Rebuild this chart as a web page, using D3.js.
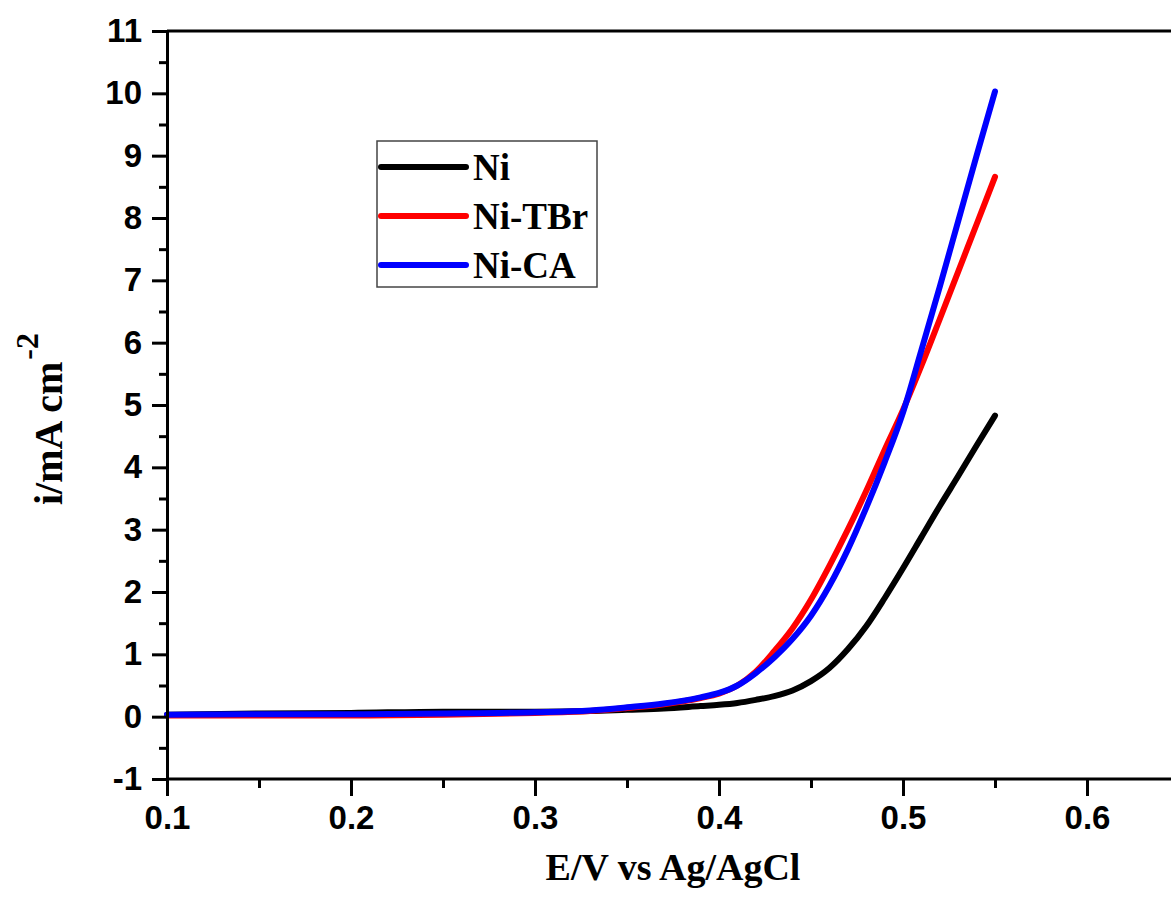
<!DOCTYPE html>
<html>
<head>
<meta charset="utf-8">
<script src="https://cdn.jsdelivr.net/npm/d3@7"></script>
<style>
  html, body { margin: 0; padding: 0; background: #fff; overflow: hidden; }
  svg { display: block; }
</style>
</head>
<body>
<script>
// ---- data ----
const potentials = [0.10, 0.15, 0.20, 0.25, 0.30, 0.33, 0.35, 0.37, 0.39, 0.40, 0.41, 0.42, 0.43, 0.44, 0.45, 0.46, 0.47, 0.48, 0.49, 0.50, 0.51, 0.52, 0.53, 0.54, 0.55];
const niValues    = [0.03, 0.05, 0.06, 0.08, 0.08, 0.09, 0.11, 0.13, 0.17, 0.19, 0.22, 0.27, 0.33, 0.42, 0.57, 0.78, 1.08, 1.45, 1.90, 2.38, 2.88, 3.38, 3.86, 4.35, 4.83];
const niTBrValues = [0.02, 0.02, 0.02, 0.03, 0.06, 0.09, 0.14, 0.20, 0.30, 0.37, 0.50, 0.72, 1.05, 1.42, 1.88, 2.42, 3.00, 3.62, 4.28, 4.92, 5.63, 6.38, 7.14, 7.90, 8.66];
const niCAValues  = [0.03, 0.04, 0.04, 0.05, 0.07, 0.10, 0.15, 0.21, 0.31, 0.38, 0.50, 0.70, 0.95, 1.25, 1.62, 2.10, 2.68, 3.35, 4.08, 4.88, 5.88, 6.90, 7.95, 9.00, 10.03];
const seriesNames = ["Ni", "Ni-TBr", "Ni-CA"];
const seriesColors = ["#000000", "#ff0000", "#0000ff"];
const xTicks = [0.1, 0.2, 0.3, 0.4, 0.5, 0.6];
const xMinorTicks = [0.15, 0.25, 0.35, 0.45, 0.55];
const yTicks = [-1, 0, 1, 2, 3, 4, 5, 6, 7, 8, 9, 10, 11];
const yMinorTicks = [-0.5, 0.5, 1.5, 2.5, 3.5, 4.5, 5.5, 6.5, 7.5, 8.5, 9.5, 10.5];
const xTitle = "E/V vs Ag/AgCl";
const yTitleMain = "i/mA cm";
const yTitleSup = "-2";

const W = 1171, H = 907;
const svg = d3.select("body").append("svg").attr("width", W).attr("height", H);
svg.append("rect").attr("width", W).attr("height", H).attr("fill", "#fff");

const x = d3.scaleLinear().domain([0.1, 0.65]).range([167, 1179]);
const y = d3.scaleLinear().domain([-1, 11]).range([779, 31]);

const tickFont = "'Liberation Sans', Arial, sans-serif";
const serif = "'Liberation Serif', 'Times New Roman', serif";

// series
const allSeries = [niValues, niTBrValues, niCAValues];
const line = d3.line().x(d => x(d[0])).y(d => y(d[1])).curve(d3.curveMonotoneX);
[0, 1, 2].forEach(i => {
  const pts = potentials.map((p, j) => [p, allSeries[i][j]]);
  svg.append("path").datum(pts)
    .attr("d", line)
    .attr("fill", "none")
    .attr("stroke", seriesColors[i])
    .attr("stroke-width", 6)
    .attr("stroke-linecap", "round")
    .attr("stroke-linejoin", "round");
});

// top spine
svg.append("line").attr("x1", x(0.1)).attr("x2", W).attr("y1", y(11)).attr("y2", y(11))
  .attr("stroke", "#000").attr("stroke-width", 3);

// bottom axis
const xAxis = d3.axisBottom(x).tickValues(xTicks).tickSize(17).tickSizeOuter(0).tickPadding(10)
  .tickFormat(d => d.toFixed(1));
const gx = svg.append("g").attr("transform", `translate(0,${y(-1)})`).call(xAxis);
gx.select(".domain").attr("stroke-width", 3).attr("d", `M${x(0.1) - 1},0H${W}`);
gx.selectAll(".tick line").attr("stroke-width", 3);
gx.selectAll(".tick text").attr("font-family", tickFont).attr("font-weight", "bold")
  .attr("font-size", 33).attr("fill", "#000");
const xMinor = d3.axisBottom(x).tickValues(xMinorTicks).tickSize(9).tickSizeOuter(0).tickFormat("");
const gxm = svg.append("g").attr("transform", `translate(0,${y(-1)})`).call(xMinor);
gxm.select(".domain").remove();
gxm.selectAll(".tick line").attr("stroke-width", 3);

// left axis
const yAxis = d3.axisLeft(y).tickValues(yTicks).tickSize(15).tickSizeOuter(0).tickPadding(10)
  .tickFormat(d => String(d));
const gy = svg.append("g").attr("transform", `translate(${x(0.1)},0)`).call(yAxis);
gy.select(".domain").attr("stroke-width", 3);
gy.selectAll(".tick line").attr("stroke-width", 3);
gy.selectAll(".tick text").attr("font-family", tickFont).attr("font-weight", "bold")
  .attr("font-size", 33).attr("fill", "#000");
const yMinor = d3.axisLeft(y).tickValues(yMinorTicks).tickSize(8).tickSizeOuter(0).tickFormat("");
const gym = svg.append("g").attr("transform", `translate(${x(0.1)},0)`).call(yMinor);
gym.select(".domain").remove();
gym.selectAll(".tick line").attr("stroke-width", 3);

// axis titles
svg.append("text").attr("x", 673).attr("y", 880).attr("text-anchor", "middle")
  .attr("font-family", serif).attr("font-weight", "bold").attr("font-size", 38)
  .text(xTitle);

const yt = svg.append("text").attr("transform", "translate(62,505) rotate(-90)")
  .attr("font-family", serif).attr("font-weight", "bold").attr("font-size", 40);
yt.append("tspan").text(yTitleMain);
yt.append("tspan").attr("dx", 2).attr("dy", -24).attr("font-size", 32).text(yTitleSup);

// legend
const lg = svg.append("g");
lg.append("rect").attr("x", 377).attr("y", 141).attr("width", 220).attr("height", 146)
  .attr("fill", "#fff").attr("stroke", "#444").attr("stroke-width", 1.5);
const legendRows = [167, 216, 265];
seriesNames.forEach((name, i) => {
  lg.append("line").attr("x1", 381).attr("x2", 466)
    .attr("y1", legendRows[i]).attr("y2", legendRows[i])
    .attr("stroke", seriesColors[i]).attr("stroke-width", 6).attr("stroke-linecap", "round");
  lg.append("text").attr("x", 473).attr("y", legendRows[i] + 13)
    .attr("font-family", serif).attr("font-weight", "bold").attr("font-size", 37)
    .text(name);
});
</script>
</body>
</html>
